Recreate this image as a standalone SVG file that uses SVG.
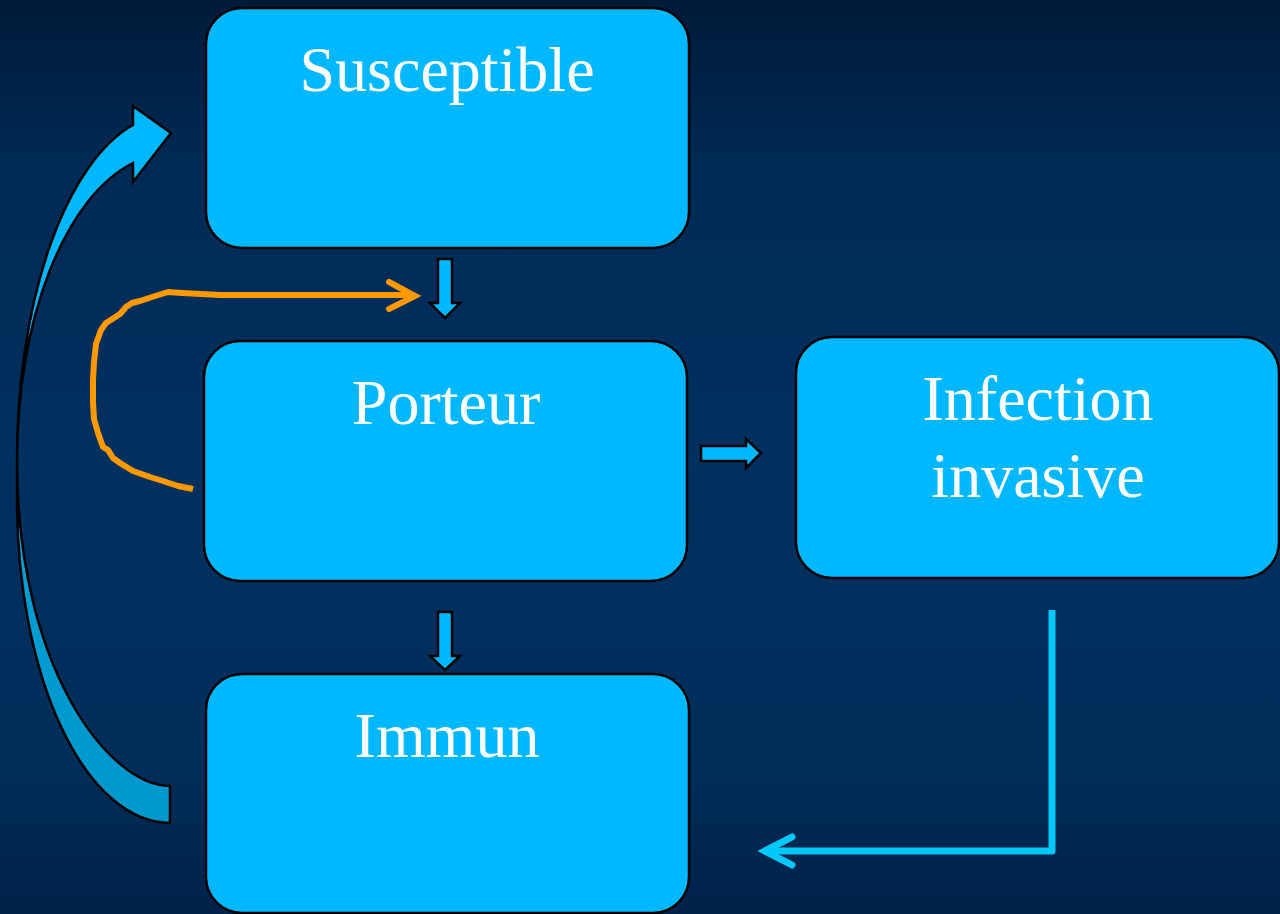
<svg xmlns="http://www.w3.org/2000/svg" width="1280" height="914" viewBox="0 0 1280 914">
<defs>
<linearGradient id="bg" x1="0" y1="0" x2="0" y2="1">
<stop offset="0" stop-color="#001a38"/>
<stop offset="0.18" stop-color="#002a55"/>
<stop offset="0.5" stop-color="#00305f"/>
<stop offset="0.82" stop-color="#002e5b"/>
<stop offset="1" stop-color="#002249"/>
</linearGradient>
<linearGradient id="curve" x1="0" y1="0" x2="0" y2="1">
<stop offset="0" stop-color="#00b8ff"/>
<stop offset="0.45" stop-color="#00b6fc"/>
<stop offset="0.68" stop-color="#009cd2"/>
<stop offset="1" stop-color="#0097cc"/>
</linearGradient>
<style>
.box{fill:#00b8ff;stroke:#000;stroke-width:2.5}
.lbl{font-family:"Liberation Serif","Times New Roman",serif;font-size:64px;fill:#fff;text-anchor:middle}
.blk{fill:#00b8ff;stroke:#000;stroke-width:2.5;stroke-linejoin:miter}
</style>
</defs>
<rect x="0" y="0" width="1280" height="914" fill="url(#bg)"/>

<g id="connectors">
<path d="M133,125 L133,106 L171,133 L133,182 L133,163 A153,306 0 0 0 17,460 C17,670 110,786 170,786 L170,823 A153,323 0 0 1 17,500 L17,460 A153,345 0 0 1 133,125 Z" fill="url(#curve)" stroke="#000" stroke-width="2.5" stroke-linejoin="miter"/>
<path class="blk" d="M438,259 L452,259 L452,303 L460,303 L445,318 L430,303 L438,303 Z"/>
<path class="blk" d="M438,612 L452,612 L452,656 L460,656 L445,670 L430,656 L438,656 Z"/>
<path class="blk" d="M701,446 L746,446 L746,439 L761,453 L746,468 L746,461 L701,461 Z"/>
<polyline points="193,489 178,486 163,481 150,477 133,471 120,463 113,458 108,450 103,447 98,433 94,419 93,402 93,380 94,362 96,344 101,330 106,323 120,314 126,307 132,303 140,301 152,297 168,292 182,293 220,295 414,295" fill="none" stroke="#ff9900" stroke-width="6" stroke-linejoin="round"/>
<polyline points="389,282 415,296 389,309" fill="none" stroke="#ff9900" stroke-width="6" stroke-linecap="round" stroke-linejoin="miter"/>
<polyline points="1052,610 1052,851 766,851" fill="none" stroke="#00c8f8" stroke-width="7" stroke-linejoin="round"/>
<polyline points="792,837 765,851 792,865" fill="none" stroke="#00c8f8" stroke-width="7" stroke-linecap="round" stroke-linejoin="miter"/>
</g>

<g id="susceptible">
<rect class="box" x="206" y="8" width="483" height="240" rx="36"/>
<text class="lbl" x="447" y="91">Susceptible</text>
</g>
<g id="porteur">
<rect class="box" x="204" y="341" width="483" height="240" rx="36"/>
<text class="lbl" x="446" y="424">Porteur</text>
</g>
<g id="infection">
<rect class="box" x="796" y="337" width="483" height="241" rx="36"/>
<text class="lbl" x="1038" y="420">Infection</text>
<text class="lbl" x="1038" y="497">invasive</text>
</g>
<g id="immun">
<rect class="box" x="206" y="674" width="483" height="239" rx="36"/>
<text class="lbl" x="447" y="757">Immun</text>
</g>
</svg>
